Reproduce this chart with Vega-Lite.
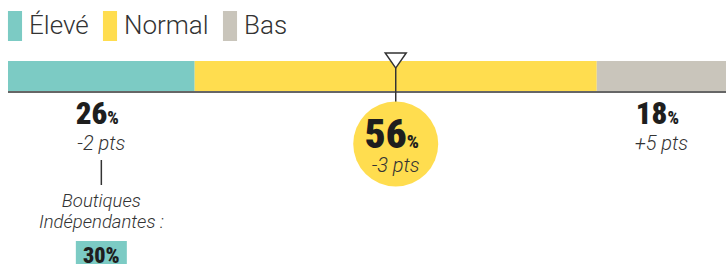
{
  "$schema": "https://vega.github.io/schema/vega-lite/v6.json",
  "width": 718,
  "height": 264,
  "autosize": {"type": "none"},
  "padding": {"left": 8, "top": 0, "right": 0, "bottom": 0},
  "background": "white",
  "config": {"view": {"stroke": null}},
  "data": {"values": [
    {"cat": "Élevé", "rank": 1, "pct": 26, "delta": "-2 pts", "note": "Boutiques\nIndépendantes :", "indep": 0.30},
    {"cat": "Normal", "rank": 2, "pct": 56, "delta": "-3 pts"},
    {"cat": "Bas", "rank": 3, "pct": 18, "delta": "+5 pts"}
  ]},
  "transform": [
    {"stack": "pct", "groupby": [], "sort": [{"field": "rank", "order": "ascending"}], "as": ["x0", "x1"]},
    {"calculate": "(datum.x0 + datum.x1) / 2", "as": "mid"}
  ],
  "layer": [
    {
      "mark": {"type": "rect"},
      "encoding": {
        "x": {"field": "x0", "type": "quantitative", "scale": {"domain": [0, 100], "nice": false, "zero": false}, "axis": null},
        "x2": {"field": "x1"},
        "y": {"value": 61},
        "y2": {"value": 91},
        "color": {
          "field": "cat", "type": "nominal",
          "scale": {"domain": ["Élevé", "Normal", "Bas"], "range": ["#7ccbc4", "#ffdd4f", "#c9c5bb"]},
          "legend": {
            "title": null, "orient": "none", "legendX": -8, "legendY": 11, "direction": "horizontal",
            "symbolType": "M-0.47,-1H0.47V1H-0.47Z", "symbolSize": 900, "symbolStrokeWidth": 0, "symbolOpacity": 1,
            "labelFont": "Roboto", "labelFontWeight": 300, "labelFontSize": 26, "labelColor": "#333",
            "labelOffset": -1, "columnPadding": 6, "padding": 0, "symbolOffset": 0
          }
        }
      }
    },
    {
      "transform": [{"filter": "datum.rank == 1"}],
      "mark": {"type": "rule", "color": "#333", "strokeWidth": 1.5},
      "encoding": {"x": {"datum": 0, "type": "quantitative"}, "x2": {"datum": 100}, "y": {"value": 92}}
    },
    {
      "transform": [{"filter": "datum.cat == 'Normal'"}],
      "mark": {"type": "rule", "color": "#333", "strokeWidth": 1.5},
      "encoding": {"x": {"field": "mid", "type": "quantitative"}, "y": {"value": 68}, "y2": {"value": 104}}
    },
    {
      "transform": [{"filter": "datum.cat == 'Normal'"}],
      "mark": {"type": "point", "shape": "circle", "filled": true, "color": "#ffdd4f", "opacity": 1, "size": 7225, "strokeWidth": 0},
      "encoding": {"x": {"field": "mid", "type": "quantitative"}, "y": {"value": 144}}
    },
    {
      "transform": [{"filter": "datum.cat == 'Normal'"}],
      "mark": {"type": "point", "shape": "M-1,-0.72L1,-0.72L0,0.72Z", "filled": false, "fill": "white", "stroke": "#333", "strokeWidth": 1.5, "opacity": 1, "size": 441},
      "encoding": {"x": {"field": "mid", "type": "quantitative"}, "y": {"value": 60.5}}
    },
    {
      "transform": [{"filter": "datum.cat != 'Normal'"}],
      "mark": {"type": "text", "align": "right", "baseline": "alphabetic", "dx": 6, "font": "Roboto Condensed, Liberation Sans Narrow, DejaVu Sans Condensed, sans-serif", "fontWeight": 900, "fontSize": 31, "color": "#1e1e1e"},
      "encoding": {"x": {"field": "mid", "type": "quantitative"}, "y": {"value": 124}, "text": {"field": "pct", "type": "quantitative", "format": "d"}}
    },
    {
      "transform": [{"filter": "datum.cat != 'Normal'"}],
      "mark": {"type": "text", "align": "left", "baseline": "alphabetic", "dx": 6, "font": "Roboto Condensed, Liberation Sans Narrow, DejaVu Sans Condensed, sans-serif", "fontWeight": 900, "fontSize": 18, "color": "#1e1e1e"},
      "encoding": {"x": {"field": "mid", "type": "quantitative"}, "y": {"value": 124}, "text": {"value": "%"}}
    },
    {
      "transform": [{"filter": "datum.cat == 'Normal'"}],
      "mark": {"type": "text", "align": "right", "baseline": "alphabetic", "dx": 11, "font": "Roboto Condensed, Liberation Sans Narrow, DejaVu Sans Condensed, sans-serif", "fontWeight": 900, "fontSize": 41, "color": "#1e1e1e"},
      "encoding": {"x": {"field": "mid", "type": "quantitative"}, "y": {"value": 148}, "text": {"field": "pct", "type": "quantitative", "format": "d"}}
    },
    {
      "transform": [{"filter": "datum.cat == 'Normal'"}],
      "mark": {"type": "text", "align": "left", "baseline": "alphabetic", "dx": 11, "font": "Roboto Condensed, Liberation Sans Narrow, DejaVu Sans Condensed, sans-serif", "fontWeight": 900, "fontSize": 19, "color": "#1e1e1e"},
      "encoding": {"x": {"field": "mid", "type": "quantitative"}, "y": {"value": 148}, "text": {"value": "%"}}
    },
    {
      "transform": [{"filter": "datum.cat != 'Normal'"}],
      "mark": {"type": "text", "align": "center", "baseline": "alphabetic", "font": "Roboto", "fontWeight": 300, "fontStyle": "italic", "fontSize": 20, "color": "#333"},
      "encoding": {"x": {"field": "mid", "type": "quantitative"}, "y": {"value": 150}, "text": {"field": "delta", "type": "nominal"}}
    },
    {
      "transform": [{"filter": "datum.cat == 'Normal'"}],
      "mark": {"type": "text", "align": "center", "baseline": "alphabetic", "font": "Roboto", "fontWeight": 300, "fontStyle": "italic", "fontSize": 20, "color": "#333"},
      "encoding": {"x": {"field": "mid", "type": "quantitative"}, "y": {"value": 172}, "text": {"field": "delta", "type": "nominal"}}
    },
    {
      "transform": [{"filter": "datum.rank == 1"}],
      "mark": {"type": "rule", "color": "#333", "strokeWidth": 1.5},
      "encoding": {"x": {"field": "mid", "type": "quantitative"}, "y": {"value": 160}, "y2": {"value": 185}}
    },
    {
      "transform": [{"filter": "datum.rank == 1"}],
      "mark": {"type": "text", "align": "center", "baseline": "alphabetic", "lineBreak": "\n", "lineHeight": 21, "font": "Roboto", "fontWeight": 300, "fontStyle": "italic", "fontSize": 18.5, "color": "#333"},
      "encoding": {"x": {"field": "mid", "type": "quantitative"}, "y": {"value": 207}, "text": {"field": "note", "type": "nominal"}}
    },
    {
      "transform": [{"filter": "datum.rank == 1"}],
      "mark": {"type": "point", "shape": "M-1,-0.47H1V0.47H-1Z", "filled": true, "color": "#7ccbc4", "opacity": 1, "size": 2601, "strokeWidth": 0},
      "encoding": {"x": {"field": "mid", "type": "quantitative"}, "y": {"value": 253}}
    },
    {
      "transform": [{"filter": "datum.rank == 1"}],
      "mark": {"type": "text", "align": "center", "baseline": "alphabetic", "font": "Roboto Condensed, Liberation Sans Narrow, DejaVu Sans Condensed, sans-serif", "fontWeight": 900, "fontSize": 22, "color": "#1e1e1e"},
      "encoding": {"x": {"field": "mid", "type": "quantitative"}, "y": {"value": 263}, "text": {"field": "indep", "type": "quantitative", "format": ".0%"}}
    }
  ]
}
